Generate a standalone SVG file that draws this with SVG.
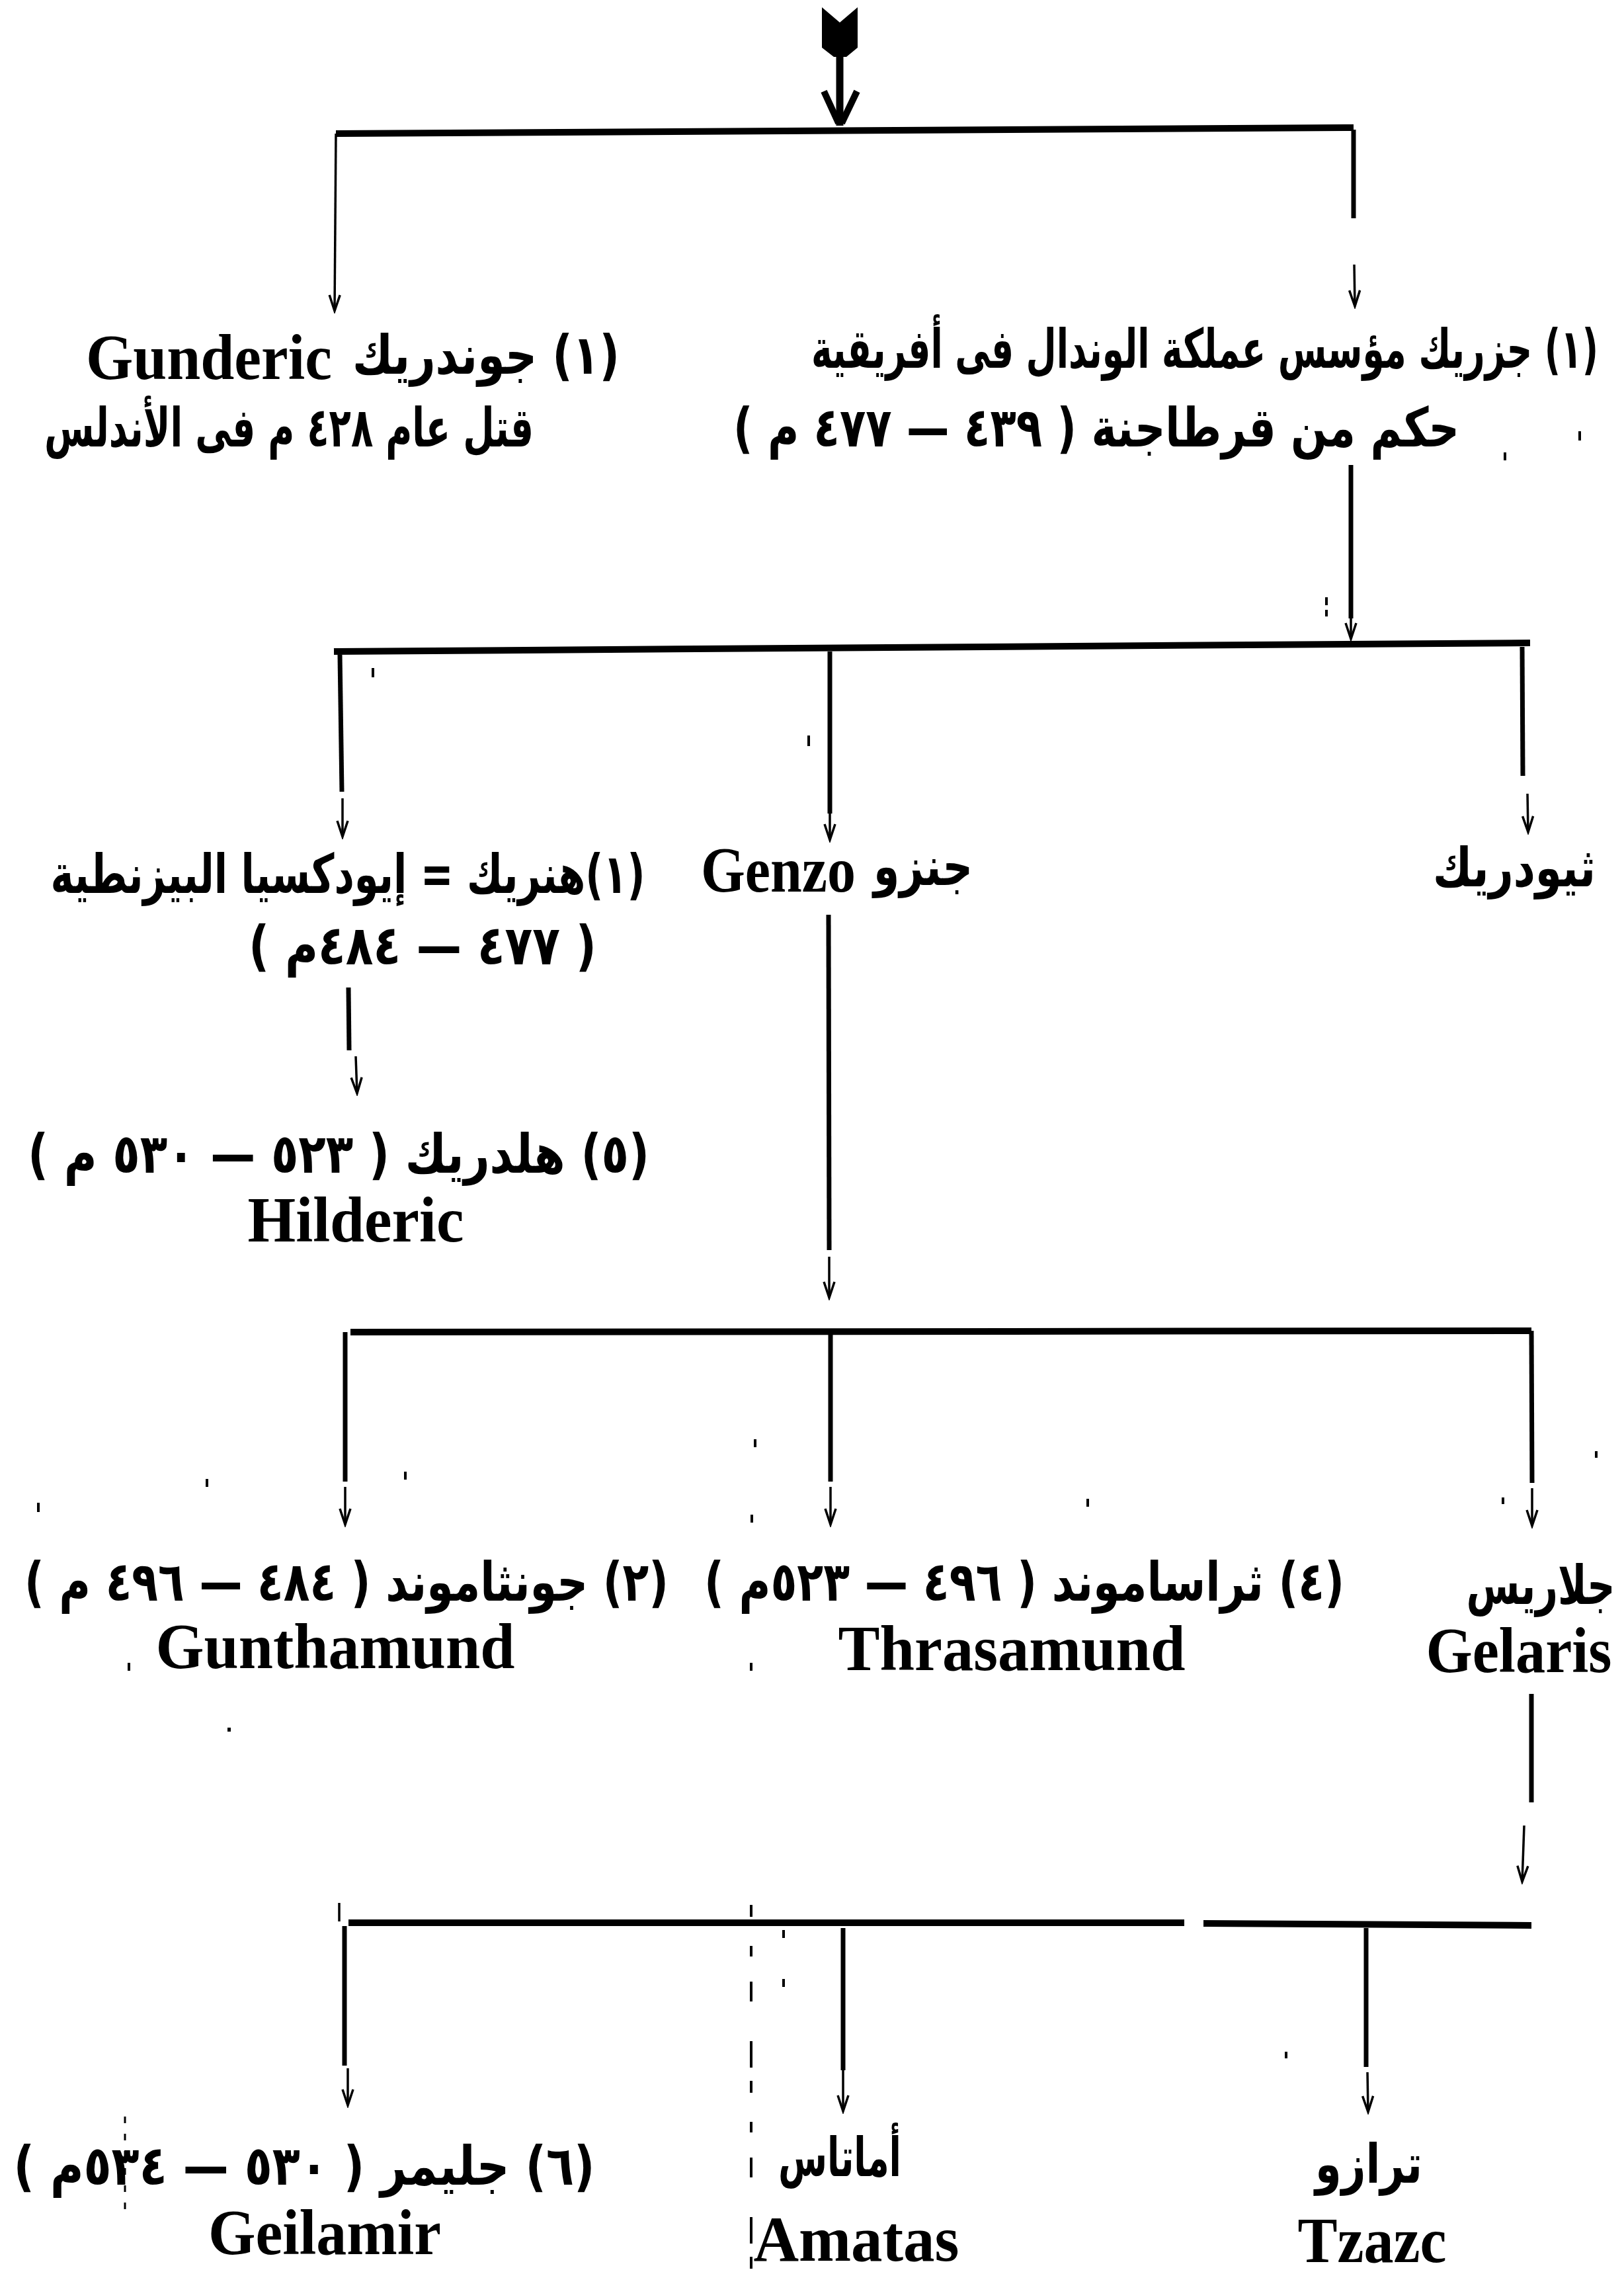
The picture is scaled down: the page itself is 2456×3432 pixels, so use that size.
<svg xmlns="http://www.w3.org/2000/svg" width="2456" height="3432" viewBox="0 0 2456 3432">
<style>
.ar{font-family:"DejaVu Sans",sans-serif;font-weight:bold;font-size:82px;direction:rtl;text-anchor:middle;fill:#000}
.la{font-family:"Liberation Serif",serif;font-weight:bold;font-size:98px;text-anchor:middle;fill:#000}
.bar{stroke:#000;stroke-width:10;fill:none}
.thick{stroke:#000;stroke-width:7;fill:none}
.thin{stroke:#000;stroke-width:3.5;fill:none}
.speck{fill:#000}
</style>
<defs>
<marker id="ah" markerUnits="userSpaceOnUse" viewBox="-30 -15 34 30" refX="0" refY="0" markerWidth="34" markerHeight="30" orient="auto">
<path d="M-24,-8 L0,0 L-24,8" fill="none" stroke="#000" stroke-width="3.5"/>
</marker>
</defs>
<rect width="2456" height="3432" fill="#fff"/>

<g id="connectors">
<!-- top fletched arrow -->
<path d="M1243,11 L1270,34 L1297,11 L1297,72 L1280,86 L1261,86 L1243,72 Z" fill="#000"/>
<path d="M1270,84 L1270,190" stroke="#000" stroke-width="11"/>
<path d="M1246,138 L1268,186 M1296,138 L1273,186" stroke="#000" stroke-width="10"/>
<!-- level 1 bar -->
<line class="bar" x1="508" y1="202" x2="2047" y2="193"/>
<line class="thin" x1="508" y1="202" x2="506" y2="470" marker-end="url(#ah)"/>
<line class="thick" x1="2047" y1="196" x2="2047" y2="330"/>
<line class="thin" x1="2048" y1="400" x2="2049" y2="463" marker-end="url(#ah)"/>
<!-- Genseric down -->
<line class="thick" x1="2043" y1="703" x2="2043" y2="935"/>
<line class="thin" x1="2043" y1="930" x2="2043" y2="966" marker-end="url(#ah)"/>
<!-- level 2 bar -->
<line class="bar" x1="505" y1="985" x2="2314" y2="972"/>
<line class="thick" x1="514" y1="990" x2="517" y2="1197"/>
<line class="thin" x1="518" y1="1207" x2="518" y2="1265" marker-end="url(#ah)"/>
<line class="thick" x1="1255" y1="985" x2="1255" y2="1230"/>
<line class="thin" x1="1255" y1="1225" x2="1255" y2="1270" marker-end="url(#ah)"/>
<line class="thick" x1="2302" y1="978" x2="2303" y2="1173"/>
<line class="thin" x1="2310" y1="1200" x2="2311" y2="1258" marker-end="url(#ah)"/>
<!-- Huneric down -->
<line class="thick" x1="527" y1="1493" x2="528" y2="1588"/>
<line class="thin" x1="538" y1="1597" x2="540" y2="1653" marker-end="url(#ah)"/>
<!-- Genzo down -->
<line class="thick" x1="1253" y1="1383" x2="1254" y2="1890"/>
<line class="thin" x1="1254" y1="1900" x2="1254" y2="1962" marker-end="url(#ah)"/>
<!-- level 3 bar -->
<line class="bar" x1="530" y1="2014" x2="2316" y2="2012"/>
<line class="thick" x1="522" y1="2014" x2="522" y2="2240"/>
<line class="thin" x1="522" y1="2248" x2="522" y2="2305" marker-end="url(#ah)"/>
<line class="thick" x1="1256" y1="2014" x2="1256" y2="2240"/>
<line class="thin" x1="1256" y1="2248" x2="1256" y2="2305" marker-end="url(#ah)"/>
<line class="thick" x1="2316" y1="2012" x2="2317" y2="2242"/>
<line class="thin" x1="2317" y1="2250" x2="2317" y2="2307" marker-end="url(#ah)"/>
<!-- Gelaris down -->
<line class="thick" x1="2316" y1="2561" x2="2316" y2="2725"/>
<line class="thin" x1="2305" y1="2760" x2="2302" y2="2845" marker-end="url(#ah)"/>
<!-- level 4 bar -->
<line class="bar" x1="527" y1="2907" x2="1791" y2="2907"/>
<line class="bar" x1="1820" y1="2908" x2="2316" y2="2911"/>
<line class="thin" x1="513" y1="2877" x2="513" y2="2905"/>
<line class="thick" x1="521" y1="2912" x2="521" y2="3123"/>
<line class="thin" x1="526" y1="3127" x2="526" y2="3183" marker-end="url(#ah)"/>
<line class="thick" x1="1275" y1="2915" x2="1275" y2="3130"/>
<line class="thin" x1="1275" y1="3130" x2="1275" y2="3192" marker-end="url(#ah)"/>
<line class="thick" x1="2066" y1="2915" x2="2066" y2="3125"/>
<line class="thin" x1="2068" y1="3133" x2="2069" y2="3193" marker-end="url(#ah)"/>
<!-- scan artefact lines -->
<line x1="1136" y1="2880" x2="1136" y2="3432" stroke="#000" stroke-width="4" stroke-dasharray="18 44 16 38 30 60 40 20"/>
<line x1="189" y1="3200" x2="189" y2="3350" stroke="#000" stroke-width="3" stroke-dasharray="10 16"/>
</g>

<g id="noise">
<rect class="speck" x="562" y="1010" width="4" height="14"/>
<rect class="speck" x="1221" y="1112" width="4" height="16"/>
<rect class="speck" x="2004" y="903" width="4" height="12"/>
<rect class="speck" x="2004" y="922" width="4" height="10"/>
<rect class="speck" x="2387" y="652" width="4" height="14"/>
<rect class="speck" x="2274" y="684" width="4" height="12"/>
<rect class="speck" x="56" y="2272" width="4" height="14"/>
<rect class="speck" x="311" y="2236" width="4" height="12"/>
<rect class="speck" x="611" y="2225" width="4" height="12"/>
<rect class="speck" x="1140" y="2176" width="4" height="12"/>
<rect class="speck" x="1135" y="2290" width="4" height="12"/>
<rect class="speck" x="193" y="2514" width="4" height="12"/>
<rect class="speck" x="1134" y="2514" width="4" height="12"/>
<rect class="speck" x="1643" y="2266" width="4" height="12"/>
<rect class="speck" x="2271" y="2264" width="4" height="10"/>
<rect class="speck" x="1943" y="3102" width="4" height="10"/>
<rect class="speck" x="1183" y="2918" width="4" height="12"/>
<rect class="speck" x="1183" y="2992" width="4" height="12"/>
<rect class="speck" x="344" y="2612" width="5" height="6"/>
<rect class="speck" x="2412" y="2194" width="4" height="10"/>
</g>

<g id="n-gunderic">
<text class="ar" x="735" y="565" textLength="404" lengthAdjust="spacingAndGlyphs">(١) جوندريك</text>
<text class="la" x="316" y="573" textLength="372" lengthAdjust="spacingAndGlyphs">Gunderic</text>
<text class="ar" x="437" y="675" textLength="740" lengthAdjust="spacingAndGlyphs">قتل عام ٤٢٨ م فى الأندلس</text>
</g>

<g id="n-genseric">
<text class="ar" x="1822" y="556" textLength="1190" lengthAdjust="spacingAndGlyphs">(١) جزريك مؤسس عملكة الوندال فى أفريقية</text>
<text class="ar" x="1658" y="675" textLength="1098" lengthAdjust="spacingAndGlyphs">حكم من قرطاجنة ( ٤٣٩ — ٤٧٧ م )</text>
</g>

<g id="n-huneric">
<text class="ar" x="526" y="1350" textLength="899" lengthAdjust="spacingAndGlyphs">(١)هنريك = إيودكسيا البيزنطية</text>
<text class="ar" x="639" y="1458" textLength="526" lengthAdjust="spacingAndGlyphs">( ٤٧٧ — ٤٨٤م )</text>
</g>

<g id="n-genzo">
<text class="la" x="1177" y="1348" textLength="234" lengthAdjust="spacingAndGlyphs">Genzo</text>
<text class="ar" x="1396" y="1338" textLength="150" lengthAdjust="spacingAndGlyphs">جنزو</text>
</g>

<g id="n-theodoric">
<text class="ar" x="2290" y="1340" textLength="246" lengthAdjust="spacingAndGlyphs">ثيودريك</text>
</g>

<g id="n-hilderic">
<text class="ar" x="512" y="1773" textLength="940" lengthAdjust="spacingAndGlyphs">(٥) هلدريك ( ٥٢٣ — ٥٣٠ م )</text>
<text class="la" x="538" y="1877" textLength="327" lengthAdjust="spacingAndGlyphs">Hilderic</text>
</g>

<g id="n-gunthamund">
<text class="ar" x="524" y="2420" textLength="974" lengthAdjust="spacingAndGlyphs">(٢) جونثاموند ( ٤٨٤ — ٤٩٦ م )</text>
<text class="la" x="507" y="2522" textLength="543" lengthAdjust="spacingAndGlyphs">Gunthamund</text>
</g>

<g id="n-thrasamund">
<text class="ar" x="1549" y="2420" textLength="968" lengthAdjust="spacingAndGlyphs">(٤) ثراساموند ( ٤٩٦ — ٥٢٣م )</text>
<text class="la" x="1530" y="2525" textLength="525" lengthAdjust="spacingAndGlyphs">Thrasamund</text>
</g>

<g id="n-gelaris">
<text class="ar" x="2330" y="2425" textLength="225" lengthAdjust="spacingAndGlyphs">جلاريس</text>
<text class="la" x="2297" y="2528" textLength="281" lengthAdjust="spacingAndGlyphs">Gelaris</text>
</g>

<g id="n-geilamir">
<text class="ar" x="460" y="3303" textLength="879" lengthAdjust="spacingAndGlyphs">(٦) جليمر ( ٥٣٠ — ٥٣٤م )</text>
<text class="la" x="491" y="3408" textLength="352" lengthAdjust="spacingAndGlyphs">Geilamir</text>
</g>

<g id="n-amatas">
<text class="ar" x="1270" y="3290" textLength="186" lengthAdjust="spacingAndGlyphs">أماتاس</text>
<text class="la" x="1295" y="3418" textLength="311" lengthAdjust="spacingAndGlyphs">Amatas</text>
</g>

<g id="n-tzazo">
<text class="ar" x="2070" y="3300" textLength="162" lengthAdjust="spacingAndGlyphs">ترازو</text>
<text class="la" x="2075" y="3420" textLength="225" lengthAdjust="spacingAndGlyphs">Tzazc</text>
</g>
</svg>
